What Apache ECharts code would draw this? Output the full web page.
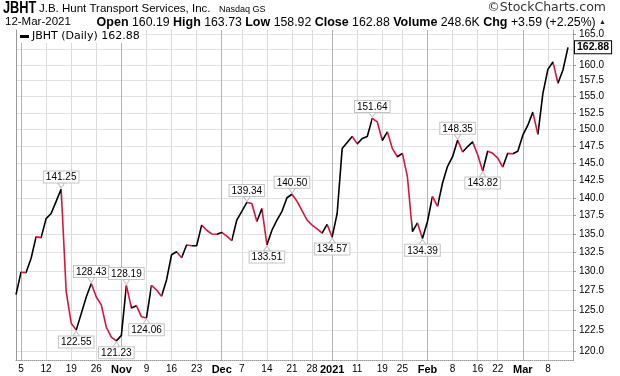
<!DOCTYPE html>
<html><head><meta charset="utf-8">
<script src="https://cdn.jsdelivr.net/npm/echarts@6/dist/echarts.min.js"></script>
<style>html,body{margin:0;padding:0;background:#fff}#c{width:620px;height:376px}</style>
</head><body><div id="c"></div>
<script>
const dates = [
'2020-10-02','2020-10-05','2020-10-06','2020-10-07','2020-10-08','2020-10-09',
'2020-10-12','2020-10-13','2020-10-14','2020-10-15','2020-10-16',
'2020-10-19','2020-10-20','2020-10-21','2020-10-22','2020-10-23',
'2020-10-26','2020-10-27','2020-10-28','2020-10-29','2020-10-30',
'2020-11-02','2020-11-03','2020-11-04','2020-11-05','2020-11-06',
'2020-11-09','2020-11-10','2020-11-11','2020-11-12','2020-11-13',
'2020-11-16','2020-11-17','2020-11-18','2020-11-19','2020-11-20',
'2020-11-23','2020-11-24','2020-11-25','2020-11-27','2020-11-30',
'2020-12-01','2020-12-02','2020-12-03','2020-12-04',
'2020-12-07','2020-12-08','2020-12-09','2020-12-10','2020-12-11',
'2020-12-14','2020-12-15','2020-12-16','2020-12-17','2020-12-18',
'2020-12-21','2020-12-22','2020-12-23','2020-12-24',
'2020-12-28','2020-12-29','2020-12-30','2020-12-31',
'2021-01-04','2021-01-05','2021-01-06','2021-01-07','2021-01-08',
'2021-01-11','2021-01-12','2021-01-13','2021-01-14','2021-01-15',
'2021-01-19','2021-01-20','2021-01-21','2021-01-22',
'2021-01-25','2021-01-26','2021-01-27','2021-01-28','2021-01-29',
'2021-02-01','2021-02-02','2021-02-03','2021-02-04','2021-02-05',
'2021-02-08','2021-02-09','2021-02-10','2021-02-11','2021-02-12',
'2021-02-16','2021-02-17','2021-02-18','2021-02-19',
'2021-02-22','2021-02-23','2021-02-24','2021-02-25','2021-02-26',
'2021-03-01','2021-03-02','2021-03-03','2021-03-04','2021-03-05',
'2021-03-08','2021-03-09','2021-03-10','2021-03-11','2021-03-12'
];
const closes = [
127.0,129.9,129.85,131.7,134.6,134.5,
137.1,137.8,139.5,141.25,127.4,
123.4,122.55,124.6,126.7,128.43,
126.7,125.7,122.9,121.7,121.23,
121.9,128.19,125.3,125.6,124.2,
124.06,128.2,127.6,126.8,128.9,
132.2,132.6,131.8,133.5,133.4,
133.4,136.2,135.5,135.0,134.95,
135.2,134.7,134.1,136.9,
138.1,139.34,139.2,136.7,138.5,
133.51,135.5,136.9,138.1,140.0,
140.50,139.5,138.2,136.9,
136.2,135.7,135.1,136.3,
134.57,137.8,147.1,148.0,148.9,
147.8,148.6,148.9,151.64,151.1,
148.3,149.6,147.1,145.9,
146.4,143.0,135.3,136.5,134.39,
136.7,140.2,138.8,142.1,144.5,
145.9,148.35,146.6,147.4,148.1,
146.2,143.82,146.7,146.4,
145.7,144.4,146.4,146.35,146.7,
149.1,150.6,152.6,149.2,155.5,
159.3,160.5,157.1,159.2,162.88
];
const tickDates = ['2020-10-05','2020-10-12','2020-10-19','2020-10-26','2020-11-02','2020-11-09','2020-11-16','2020-11-23','2020-12-01','2020-12-07','2020-12-14','2020-12-21','2020-12-28','2021-01-04','2021-01-11','2021-01-19','2021-01-25','2021-02-01','2021-02-08','2021-02-16','2021-02-22','2021-03-01','2021-03-08'];
const tickLabels = ['5','12','19','26','Nov','9','16','23','Dec','7','14','21','28','2021','11','19','25','Feb','8','16','22','Mar','8'];
const monthLineDates = ['2020-10-05','2020-11-02','2020-12-01','2021-01-04','2021-02-01','2021-03-01'];
const yTicks = [120,122.5,125,127.5,130,132.5,135,137.5,140,142.5,145,147.5,150,152.5,155,157.5,160,162.5,165];
const calloutDates = ['2020-10-15','2020-10-20','2020-10-23','2020-10-30','2020-11-03','2020-11-09','2020-12-08','2020-12-14','2020-12-21','2021-01-04','2021-01-14','2021-01-29','2021-02-09','2021-02-17'];
const calloutSides = ['top','bottom','top','bottom','top','bottom','top','bottom','top','bottom','top','bottom','top','bottom'];

const RED = '#dc143c', BLACK = '#000000';
const pieces = [];
for (let i = 1; i < closes.length; i++) {
  const c = closes[i] < closes[i-1] ? RED : BLACK;
  const last = pieces[pieces.length-1];
  if (last && last.color === c) last.lte = i;
  else pieces.push({gt: i-1, lte: i, color: c});
}
const FONT = 'Liberation Sans';
const catData = dates.concat(['']);
const lastClose = closes[closes.length-1];
const NOTCH_DOWN = 'path://M0,0L10,0L5,7Z';
const NOTCH_UP = 'path://M5,0L10,7L0,7Z';

const chart = echarts.init(document.getElementById('c'), null, {renderer:'canvas'});
chart.setOption({
  animation: false,
  backgroundColor: '#fff',
  grid: {left: 16, right: 47, top: 30, bottom: 15.5, containLabel: false, outerBoundsMode: 'none'},
  legend: {
    left: 17, top: 30, padding: [1,3,1,3], backgroundColor: '#fff',
    icon: 'rect', itemWidth: 9, itemHeight: 3, itemGap: 0,
    data: [{name: 'JBHT (Daily)', itemStyle: {color: '#000'}}],
    formatter: n => n + ' ' + lastClose.toFixed(2),
    textStyle: {fontFamily: 'DejaVu Sans', fontSize: 11, color: '#000', padding: [0,0,0,-2]}
  },
  visualMap: {type: 'piecewise', show: false, dimension: 0, seriesIndex: 0, pieces: pieces, outOfRange: {color: BLACK}},
  xAxis: [{
    type: 'category', data: catData, boundaryGap: false,
    axisLine: {lineStyle: {color: '#999', type: 'dotted'}},
    axisTick: {show: false},
    axisLabel: {
      interval: (i, v) => tickDates.includes(v), margin: 4,
      formatter: v => { const k = tickDates.indexOf(v); const t = tickLabels[k]; return /^\d+$/.test(t) && t.length < 4 ? '{n|' + t + '}' : '{b|' + t + '}'; },
      rich: {n: {fontFamily: FONT, fontSize: 10, color: '#000'}, b: {fontFamily: FONT, fontSize: 11, fontWeight: 'bold', color: '#000'}}
    },
    splitLine: {show: true, interval: (i, v) => tickDates.includes(v), lineStyle: {color: '#dcdcdc', width: 1}}
  }, {
    type: 'category', data: catData, boundaryGap: false, position: 'bottom',
    axisLine: {show: false}, axisTick: {show: false}, axisLabel: {show: false},
    splitLine: {show: true, interval: (i, v) => monthLineDates.includes(v), lineStyle: {color: '#b4b4b4', width: 1}}
  }],
  yAxis: [{
    type: 'log', logBase: 10, position: 'right', min: 118.86, max: 165.74,
    axisLine: {show: true, lineStyle: {color: '#999', type: 'dotted'}},
    axisTick: {show: true, length: 3, customValues: yTicks, lineStyle: {color: '#999'}},
    axisLabel: {customValues: yTicks, formatter: v => Number(v).toFixed(1), margin: 6, fontFamily: FONT, fontSize: 10, color: '#000'},
    splitLine: {show: true, lineStyle: {color: '#e2e2e2', width: 1}}
  }, {
    type: 'value', position: 'left', min: 0, max: 1,
    axisLine: {show: true, lineStyle: {color: '#999'}},
    axisTick: {show: false}, axisLabel: {show: false}, splitLine: {show: false}
  }],
  series: [{
    name: 'JBHT (Daily)', type: 'line', xAxisIndex: 0, yAxisIndex: 0,
    data: closes, showSymbol: false, symbol: 'none',
    lineStyle: {width: 1.6},
    itemStyle: {color: '#000'},
    endLabel: {
      show: true, formatter: () => lastClose.toFixed(2), color: '#000', fontFamily: FONT,
      fontSize: 10.5, fontWeight: 'bold', backgroundColor: '#fff', borderColor: '#000', borderWidth: 1,
      padding: [1,2,0,2], distance: 7
    },
    markPoint: {
      silent: true,
      itemStyle: {color: '#fff', borderColor: '#c4c4c4', borderWidth: 1},
      label: {
        show: true, formatter: p => Number(p.value).toFixed(2), color: '#000', fontFamily: FONT, fontSize: 10,
        backgroundColor: '#fff', borderColor: '#c4c4c4', borderWidth: 1, padding: [1,2,0,2], distance: 0
      },
      data: calloutDates.map((d, k) => {
        const v = closes[dates.indexOf(d)];
        const top = calloutSides[k] === 'top';
        return {
          coord: [d, v], value: v,
          symbol: top ? NOTCH_DOWN : NOTCH_UP, symbolSize: [7, 5],
          symbolOffset: [0, top ? -3.5 : 3.5],
          label: {position: calloutSides[k]}
        };
      })
    }
  }],
  graphic: [
    {type: 'text', x: 3, y: 1, scaleX: 0.8, style: {text: 'JBHT', font: 'bold 16px "Liberation Sans"', fill: '#000'}},
    {type: 'text', x: 39, y: 3, style: {text: 'J.B. Hunt Transport Services, Inc.', font: '11.5px "Liberation Sans"', fill: '#000'}},
    {type: 'text', x: 219, y: 5, style: {text: 'Nasdaq GS', font: '9px "Liberation Sans"', fill: '#000'}},
    {type: 'text', right: 14, top: 1, style: {text: '©StockCharts.com', font: '12.5px "DejaVu Sans"', fill: '#333'}},
    {type: 'text', x: 5, y: 16, style: {text: '12-Mar-2021', font: '11.5px "Liberation Sans"', fill: '#000'}},
    {type: 'text', right: 14, top: 16, style: {
      text: '{b|Open} 160.19 {b|High} 163.73 {b|Low} 158.92 {b|Close} 162.88 {b|Volume} 248.6K {b|Chg} +3.59 (+2.25%) {t|▲}',
      font: '12.3px "Liberation Sans"', fill: '#000',
      rich: {b: {fontFamily: FONT, fontSize: 12.5, fontWeight: 'bold', fill: '#000'}, t: {fontSize: 7, fill: '#222'}}
    }}
  ]
});
</script></body></html>
